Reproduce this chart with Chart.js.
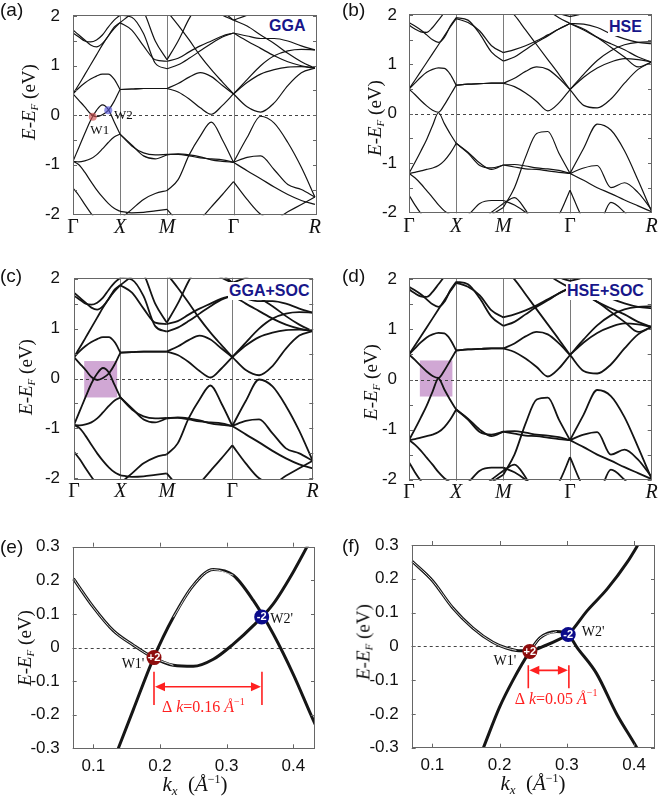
<!DOCTYPE html>
<html>
<head>
<meta charset="utf-8">
<title>Band structures</title>
<script src="https://cdn.jsdelivr.net/npm/chart.js@4.4.1/dist/chart.umd.min.js"></script>
<style>
  body { margin: 0; background: #fff; }
  #fig { position: relative; width: 660px; height: 796px; overflow: hidden; font-family: "Liberation Sans", Arial, sans-serif; color: #111; }
  #fig canvas { position: absolute; }
  .tag { position: absolute; font-size: 19px; line-height: 19px; }
  .method { position: absolute; font-size: 16px; line-height: 16px; font-weight: bold; color: #17168a; background: #fff; padding: 1px; }
  .ytitle { position: absolute; font-family: "Liberation Serif", serif; font-size: 19px; line-height: 22px; white-space: nowrap; transform: translate(-50%, -50%) rotate(-90deg); }
  .ytitle sub { font-size: 11px; vertical-align: -3px; font-style: italic; }
  .xtitle { position: absolute; font-family: "Liberation Serif", serif; font-size: 21px; line-height: 24px; white-space: nowrap; transform: translate(-50%, -50%); }
  .xtitle sub { font-size: 13px; vertical-align: -4px; }
  .xtitle sup { font-size: 12px; vertical-align: 8px; }
</style>
</head>
<body>
<div id="fig">
  <canvas id="pa" width="330" height="240" style="left:0;top:0"></canvas>
  <canvas id="pb" width="330" height="240" style="left:330px;top:0"></canvas>
  <canvas id="pc" width="330" height="260" style="left:0;top:240px"></canvas>
  <canvas id="pd" width="330" height="260" style="left:330px;top:240px"></canvas>
  <canvas id="pe" width="330" height="296" style="left:0;top:500px"></canvas>
  <canvas id="pf" width="330" height="296" style="left:330px;top:500px"></canvas>

  <div class="tag" style="left:0;top:0">(a)</div>
  <div class="tag" style="left:342px;top:0">(b)</div>
  <div class="tag" style="left:0;top:266px">(c)</div>
  <div class="tag" style="left:342px;top:266px">(d)</div>
  <div class="tag" style="left:0;top:537px">(e)</div>
  <div class="tag" style="left:342px;top:536px">(f)</div>

  <div class="method" style="left:268px;top:17px">GGA</div>
  <div class="method" style="left:608px;top:18px">HSE</div>
  <div class="method" style="left:228px;top:282px">GGA+SOC</div>
  <div class="method" style="left:566px;top:282px">HSE+SOC</div>

  <div class="ytitle" style="left:31px;top:102px"><i>E</i>-<i>E</i><sub>F</sub> (eV)</div>
  <div class="ytitle" style="left:377px;top:118px"><i>E</i>-<i>E</i><sub>F</sub> (eV)</div>
  <div class="ytitle" style="left:28px;top:377px"><i>E</i>-<i>E</i><sub>F</sub> (eV)</div>
  <div class="ytitle" style="left:373px;top:382px"><i>E</i>-<i>E</i><sub>F</sub> (eV)</div>
  <div class="ytitle" style="left:27px;top:648px"><i>E</i>-<i>E</i><sub>F</sub> (eV)</div>
  <div class="ytitle" style="left:366px;top:642px"><i>E</i>-<i>E</i><sub>F</sub> (eV)</div>

  <div class="xtitle" style="left:195px;top:785px"><i>k</i><sub><i>x</i></sub>&nbsp;&nbsp;(<i>Å</i><sup>−1</sup>)</div>
  <div class="xtitle" style="left:533px;top:784px"><i>k</i><sub><i>x</i></sub>&nbsp;&nbsp;(<i>Å</i><sup>−1</sup>)</div>
</div>
<script>
// k-path: Γ-X-M-Γ-R (path length in units of Γ-X)
const PATH_K = [0, 1, 2, 3.414, 5.146];
const PATH_LABELS = ['Γ', 'X', 'M', 'Γ', 'R'];
const K = [0, 0.125, 0.25, 0.375, 0.5, 0.625, 0.75, 0.875, 1,
           1.25, 1.5, 1.75, 2,
           2.236, 2.471, 2.707, 2.943, 3.179, 3.414,
           3.703, 3.991, 4.28, 4.569, 4.857, 5.146];
const SEGMENTS = [[0, 8], [8, 12], [12, 18], [18, 24]];
const BAND_Y_TICKS = [-2, -1, 0, 1, 2];
const BAND_TICK_MARKS = [-2, -1.5, -1, -0.5, 0, 0.5, 1, 1.5, 2];

// GGA bands (eV); also used for (c)
const gga1 = [0.43,0.55,0.65,0.73,0.79,0.83,0.83,0.73,0.52, 0.53,0.54,0.54,0.54, 0.64,0.77,0.86,0.78,0.60,0.43, 0.66,0.83,0.92,0.97,0.98,0.95];
const gga2 = [0.43,0.30,0.17,0.03,-0.03,0.01,0.10,0.28,0.52, 0.53,0.54,0.54,0.54, 0.47,0.33,0.15,0.02,0.20,0.43, 0.17,0.065,0.25,0.60,0.86,0.95];
const gga3 = [-0.93,-0.65,-0.37,-0.10,0.10,0.21,0.12,-0.13,-0.38, -0.62,-0.76,-0.80,-0.79, -0.79,-0.82,-0.86,-0.88,-0.90,-0.95, -0.85,-0.82,-1.10,-1.40,-1.50,-1.65];
const gga4 = [-0.93,-0.94,-0.92,-0.88,-0.80,-0.68,-0.55,-0.44,-0.38, -0.60,-0.82,-0.88,-0.80, -0.78,-0.80,-0.84,-0.90,-0.93,-0.95, -1.12,-1.28,-1.45,-1.60,-1.72,-1.80];
const gga5 = [-0.93,-1.00,-1.15,-1.33,-1.50,-1.65,-1.78,-1.88,-1.94, -1.97,-1.96,-1.93,-1.90, -2.15,-2.30,-2.10,-1.85,-1.60,-1.34, -1.70,-2.00,-2.10,-1.95,-1.80,-1.65];
const gga6 = [-1.47,-1.62,-1.80,-1.97,-2.12,-2.20,-2.20,-2.15,-2.10, -1.90,-1.70,-1.58,-1.52, -1.30,-0.80,-0.42,-0.14,-0.50,-0.95, -0.45,-0.02,-0.16,-0.55,-1.05,-1.65];
const gga7 = [0.43,0.62,0.82,1.02,1.22,1.42,1.60,1.75,1.87, 1.72,1.40,1.12,1.09, 1.15,1.28,1.40,1.50,1.60,1.66, 1.50,1.35,1.20,1.08,1.00,0.95];
const gga8 = [1.66,1.58,1.50,1.48,1.52,1.62,1.78,1.92,2.02, 1.98,1.65,1.05,0.94, 1.02,1.15,1.30,1.45,1.58,1.66, 1.60,1.55,1.55,1.50,1.40,1.32];
const gga9 = [1.72,1.62,1.52,1.42,1.38,1.45,1.60,1.78,1.87, 2.05,2.20,2.30,2.30, 2.30,2.30,2.25,2.15,2.02,1.92, 2.02,2.15,2.25,2.30,2.30,2.30];
const gga10 = [2.30,2.30,2.30,2.30,2.30,2.30,2.30,2.30,2.40, 2.35,2.10,1.50,1.12, 1.50,1.95,2.30,2.40,2.40,2.40, 2.40,2.40,2.40,2.40,2.40,2.40];
const gga11 = [2.40,2.40,2.40,2.40,2.40,2.40,2.40,2.40,2.40, 2.40,2.40,2.30,2.10, 1.82,1.52,1.20,0.92,0.67,0.43, 0.72,1.00,1.20,1.30,1.33,1.32];
const gga12 = [2.40,2.40,2.40,2.40,2.40,2.40,2.40,2.40,2.40, 2.40,2.40,2.40,2.40, 2.40,2.40,2.40,2.30,2.10,1.92, 1.80,1.62,1.45,1.25,1.08,0.95];
const GGA_BANDS = [gga1, gga2, gga3, gga4, gga5, gga6, gga7, gga8, gga9, gga10, gga11, gga12];

// HSE bands (eV); also used for (d)
const hse1 = [0.50,0.62,0.74,0.84,0.90,0.93,0.92,0.80,0.58, 0.60,0.61,0.62,0.62, 0.72,0.86,0.95,0.90,0.72,0.49, 0.74,0.93,1.05,1.12,1.10,1.05];
const hse2 = [0.50,0.39,0.27,0.16,0.07,0.03,0.18,0.38,0.58, 0.60,0.61,0.62,0.62, 0.55,0.42,0.25,0.06,0.22,0.49, 0.17,0.12,0.30,0.62,0.90,1.05];
const hse3 = [-1.21,-0.99,-0.76,-0.52,-0.24,0.02,-0.20,-0.41,-0.60, -0.80,-1.05,-1.10,-1.04, -1.03,-1.06,-1.10,-1.12,-1.15,-1.21, -1.10,-1.05,-1.50,-1.40,-1.60,-1.95];
const hse4 = [-1.21,-1.19,-1.16,-1.13,-1.10,-1.05,-0.95,-0.80,-0.60, -0.78,-1.00,-1.13,-1.04, -1.08,-1.12,-1.13,-1.16,-1.19,-1.21, -1.35,-1.50,-1.62,-1.75,-1.87,-1.99];
const hse5 = [-1.21,-1.30,-1.42,-1.56,-1.70,-1.85,-1.97,-2.05,-2.10, -2.05,-1.82,-1.76,-1.76, -1.85,-2.00,-2.20,-2.30,-2.30,-2.30, -2.30,-2.30,-2.30,-2.30,-2.30,-2.30];
const hse6 = [-1.65,-1.85,-2.02,-2.15,-2.25,-2.30,-2.30,-2.30,-2.30, -2.25,-2.20,-2.05,-1.90, -1.50,-0.88,-0.40,-0.36,-0.80,-1.21, -0.70,-0.21,-0.33,-0.75,-1.35,-1.99];
const hse7 = [-2.30,-2.30,-2.30,-2.30,-2.30,-2.30,-2.30,-2.30,-2.30, -2.30,-2.30,-2.30,-2.30, -2.30,-2.30,-2.30,-2.30,-2.05,-1.55, -2.15,-2.30,-2.30,-2.30,-2.30,-2.30];
const hse8 = [-2.30,-2.30,-2.30,-2.30,-2.30,-2.30,-2.30,-2.30,-2.30, -2.30,-2.20,-2.00,-1.82, -1.70,-1.95,-2.30,-2.30,-2.30,-2.30, -2.30,-2.30,-1.80,-2.00,-2.30,-2.30];
const hse9 = [0.50,0.68,0.86,1.04,1.22,1.40,1.58,1.76,1.93, 1.85,1.68,1.38,1.24, 1.30,1.38,1.48,1.60,1.72,1.83, 1.70,1.55,1.42,1.30,1.15,1.05];
const hse10 = [1.85,1.78,1.70,1.60,1.50,1.45,1.55,1.78,1.95, 1.90,1.62,1.25,1.07, 1.15,1.30,1.45,1.58,1.72,1.83, 1.82,1.75,1.62,1.52,1.45,1.42];
const hse11 = [1.80,1.72,1.66,1.65,1.75,1.90,2.05,2.15,2.20, 2.30,2.30,2.30,2.30, 2.30,2.30,2.30,2.30,2.05,1.97, 2.05,2.30,2.30,2.30,2.30,2.30];
const hse12 = [2.40,2.40,2.40,2.40,2.40,2.40,2.40,2.40,2.40, 2.40,2.40,2.30,2.20, 2.00,1.70,1.40,1.10,0.80,0.49, 0.80,1.08,1.28,1.40,1.45,1.46];
const hse13 = [2.40,2.40,2.40,2.40,2.40,2.40,2.40,2.40,2.40, 2.40,2.40,2.40,2.40, 2.40,2.40,2.30,2.10,1.95,1.83, 1.72,1.55,1.35,1.15,0.95,1.05];
const HSE_BANDS = [hse1, hse2, hse3, hse4, hse5, hse6, hse7, hse8, hse9, hse10, hse11, hse12, hse13];

// Weyl points in (a), [k, E]
const W1_GGA = [0.42, -0.03];
const W2_GGA = [0.75, 0.10];
// shaded windows in (c) and (d)
const BOX_C_K = [0.22, 0.93], BOX_C_E = [-0.38, 0.35];
const BOX_D_K = [0.23, 0.92], BOX_D_E = [-0.34, 0.38];

// zoomed bands near Weyl points, panel (e) GGA+SOC
const E_KA = [0.07, 0.10, 0.13, 0.16, 0.19, 0.22, 0.25, 0.28, 0.31, 0.34, 0.37, 0.40, 0.43, 0.45];
const E_A  = [0.205, 0.12, 0.05, 0.007, -0.03, -0.053, -0.056, -0.035, 0.01, 0.065, 0.13, 0.225, 0.335, 0.41];
const E_KB = [0.12, 0.1375, 0.16, 0.19, 0.22, 0.25, 0.28, 0.31, 0.34, 0.37, 0.40, 0.43, 0.45];
const E_B  = [-0.39, -0.30, -0.185, -0.033, 0.09, 0.185, 0.232, 0.215, 0.14, 0.04, -0.08, -0.216, -0.30];
const E_DOUBLE_A = [0.07, 0.22], E_DOUBLE_B = [0.22, 0.32];
const E_W1 = [0.191, -0.03], E_W2 = [0.3526, 0.091];
const E_DK = [0.191, 0.353], E_DK_BAR = -0.117, E_DK_TICK = [-0.072, -0.171], E_DK_LABEL = [0.265, -0.18];

// panel (f) HSE+SOC
const F_KA = [0.07, 0.10, 0.13, 0.16, 0.19, 0.21, 0.225, 0.245, 0.27, 0.29, 0.302, 0.33, 0.36, 0.39, 0.41, 0.43];
const F_A  = [0.252, 0.195, 0.115, 0.055, 0.012, -0.005, -0.012, -0.013, 0.004, 0.022, 0.035, 0.105, 0.17, 0.25, 0.315, 0.38];
const F_KB = [0.17, 0.176, 0.2, 0.22, 0.245, 0.26, 0.285, 0.302, 0.315, 0.344, 0.374, 0.404, 0.42];
const F_B  = [-0.33, -0.30, -0.18, -0.10, -0.015, 0.025, 0.044, 0.035, -0.003, -0.08, -0.20, -0.30, -0.36];
const F_DOUBLE_A = [0.07, 0.24], F_DOUBLE_B = [0.245, 0.30];
const F_W1 = [0.245, -0.015], F_W2 = [0.302, 0.035];
const F_DK = [0.2427, 0.303], F_DK_BAR = -0.071, F_DK_TICK = [-0.056, -0.124], F_DK_LABEL = [0.284, -0.158];

const ZOOM_X_TICKS = [0.1, 0.2, 0.3, 0.4];
const ZOOM_X_LABELS = ['0.1', '0.2', '0.3', '0.4'];
const ZOOM_Y_TICKS = [-0.3, -0.2, -0.1, 0, 0.1, 0.2, 0.3];
const ZOOM_Y_LABELS = ['-0.3', '-0.2', '-0.1', '0', '0.1', '0.2', '0.3'];

const SANS = '"Liberation Sans", Arial, sans-serif';
const SERIF = '"Liberation Serif", "Times New Roman", serif';
Chart.defaults.color = '#111';

// one dataset per path segment so the kinks at X, M, Γ stay sharp
function bandSets(bands, width) {
    const sets = [];
    bands.forEach(band => {
        SEGMENTS.forEach(([i0, i1]) => {
            const pts = [];
            for (let i = i0; i <= i1; i++) pts.push({ x: K[i], y: band[i] });
            sets.push({ data: pts, borderColor: '#141414', borderWidth: width, pointRadius: 0, cubicInterpolationMode: 'monotone' });
        });
    });
    return sets;
}

function drawFrame(ctx, a) {
    ctx.strokeStyle = '#666';
    ctx.lineWidth = 1;
    ctx.strokeRect(Math.round(a.left) + 0.5, Math.round(a.top) + 0.5, Math.round(a.right - a.left) - 1, Math.round(a.bottom - a.top) - 1);
}

function bandDecor(opt) {
    return {
        id: 'bandDecor',
        beforeDatasetsDraw(chart) {
            const { ctx, chartArea: a, scales: { x, y } } = chart;
            ctx.save();
            if (opt.boxK) {
                const x0 = x.getPixelForValue(opt.boxK[0]), x1 = x.getPixelForValue(opt.boxK[1]);
                const y0 = y.getPixelForValue(opt.boxE[1]), y1 = y.getPixelForValue(opt.boxE[0]);
                ctx.fillStyle = 'rgba(150, 60, 160, 0.45)';
                ctx.fillRect(x0, y0, x1 - x0, y1 - y0);
            }
            ctx.strokeStyle = '#7a7a7a';
            ctx.lineWidth = 1;
            PATH_K.slice(1, 4).forEach(k => {
                const px = Math.round(x.getPixelForValue(k)) + 0.5;
                ctx.beginPath(); ctx.moveTo(px, a.top); ctx.lineTo(px, a.bottom); ctx.stroke();
            });
            const py = Math.round(y.getPixelForValue(0)) + 0.5;
            ctx.strokeStyle = '#444';
            ctx.setLineDash([3, 3]);
            ctx.beginPath(); ctx.moveTo(a.left, py); ctx.lineTo(a.right, py); ctx.stroke();
            ctx.restore();
        },
        afterDatasetsDraw(chart) {
            const { ctx, chartArea: a, scales: { x, y } } = chart;
            ctx.save();
            drawFrame(ctx, a);
            ctx.strokeStyle = '#666';
            BAND_TICK_MARKS.forEach(v => {
                const py = Math.round(y.getPixelForValue(v)) + 0.5;
                ctx.beginPath();
                ctx.moveTo(a.left, py); ctx.lineTo(a.left + 4, py);
                ctx.moveTo(a.right, py); ctx.lineTo(a.right - 4, py);
                ctx.stroke();
            });
            if (opt.weyl) {
                [[W1_GGA, 'rgba(205, 80, 80, 0.65)', 'W1', 7, 14], [W2_GGA, 'rgba(85, 85, 215, 0.65)', 'W2', 15, 5]].forEach(([p, col, txt, dx, dy]) => {
                    const px = x.getPixelForValue(p[0]), py = y.getPixelForValue(p[1]);
                    ctx.fillStyle = col;
                    ctx.beginPath(); ctx.arc(px, py, 4, 0, Math.PI * 2); ctx.fill();
                    ctx.fillStyle = '#111';
                    ctx.font = '13px ' + SERIF;
                    ctx.textAlign = 'center'; ctx.textBaseline = 'middle';
                    ctx.fillText(txt, px + dx, py + dy);
                });
            }
            ctx.restore();
        }
    };
}

function bandChart(id, bands, lineWidth, lay, opt) {
    return new Chart(document.getElementById(id), {
        type: 'line',
        data: { datasets: bandSets(bands, lineWidth) },
        options: {
            responsive: false,
            animation: false,
            events: [],
            layout: { padding: { top: lay.padTop, right: lay.padRight, left: 0, bottom: 0 } },
            plugins: { legend: { display: false }, tooltip: { enabled: false } },
            scales: {
                x: {
                    type: 'linear', min: 0, max: lay.xMax,
                    grid: { display: false }, border: { display: false },
                    afterBuildTicks: s => { s.ticks = PATH_K.map(v => ({ value: v })); },
                    afterFit: s => { s.height = lay.xAxisH; },
                    ticks: {
                        autoSkip: false, maxRotation: 0, padding: lay.xPad, color: '#111',
                        callback: (v, i) => PATH_LABELS[i],
                        font: c => ({ family: SERIF, size: 20, lineHeight: 1, style: PATH_LABELS[c.index] === 'Γ' ? 'normal' : 'italic' })
                    }
                },
                y: {
                    min: -2.02, max: 2.02,
                    grid: { display: false }, border: { display: false },
                    afterBuildTicks: s => { s.ticks = BAND_Y_TICKS.map(v => ({ value: v })); },
                    afterFit: s => { s.width = lay.yAxisW; },
                    ticks: { padding: lay.yPad, color: '#111', font: { family: SANS, size: 17 }, callback: v => String(v) }
                }
            }
        },
        plugins: [bandDecor(opt)]
    });
}

function zip(ks, es) {
    return ks.map((k, i) => ({ x: k, y: es[i] }));
}

// Chart.js paints the first dataset last, so the light inner stroke goes first
function zoomSets(lines) {
    const sets = [];
    lines.forEach(([ks, es, dbl]) => {
        const inner = zip(ks, es).filter(p => p.x >= dbl[0] && p.x <= dbl[1]);
        sets.push({ data: inner, borderColor: '#d8d8d8', borderWidth: 1, pointRadius: 0, cubicInterpolationMode: 'monotone' });
    });
    lines.forEach(([ks, es]) => {
        sets.push({ data: zip(ks, es), borderColor: '#161616', borderWidth: 3, pointRadius: 0, cubicInterpolationMode: 'monotone' });
    });
    return sets;
}

function drawRich(ctx, parts, cx, cy) {
    let total = 0;
    parts.forEach(p => { ctx.font = p.font; p.w = ctx.measureText(p.t).width; total += p.w; });
    let xx = cx - total / 2;
    ctx.textAlign = 'left'; ctx.textBaseline = 'middle';
    parts.forEach(p => { ctx.font = p.font; ctx.fillText(p.t, xx, cy + (p.dy || 0)); xx += p.w; });
}

function zoomDecor(opt) {
    return {
        id: 'zoomDecor',
        beforeDatasetsDraw(chart) {
            const { ctx, chartArea: a, scales: { y } } = chart;
            ctx.save();
            const py = Math.round(y.getPixelForValue(0)) + 0.5;
            ctx.strokeStyle = '#444';
            ctx.lineWidth = 1;
            ctx.setLineDash([3, 3]);
            ctx.beginPath(); ctx.moveTo(a.left, py); ctx.lineTo(a.right, py); ctx.stroke();
            ctx.restore();
        },
        afterDatasetsDraw(chart) {
            const { ctx, chartArea: a, scales: { x, y } } = chart;
            ctx.save();
            drawFrame(ctx, a);
            ctx.strokeStyle = '#666';
            ZOOM_Y_TICKS.forEach(v => {
                const py = Math.round(y.getPixelForValue(v)) + 0.5;
                ctx.beginPath();
                ctx.moveTo(a.left, py); ctx.lineTo(a.left + 4, py);
                ctx.moveTo(a.right, py); ctx.lineTo(a.right - 4, py);
                ctx.stroke();
            });
            ZOOM_X_TICKS.forEach(v => {
                const px = Math.round(x.getPixelForValue(v)) + 0.5;
                ctx.beginPath();
                ctx.moveTo(px, a.top); ctx.lineTo(px, a.top - 4);
                ctx.moveTo(px, a.bottom); ctx.lineTo(px, a.bottom - 4);
                ctx.stroke();
            });

            // Δk bracket
            const xa = x.getPixelForValue(opt.dk[0]), xb = x.getPixelForValue(opt.dk[1]);
            const yb = y.getPixelForValue(opt.dkBar);
            const t0 = y.getPixelForValue(opt.dkTick[0]), t1 = y.getPixelForValue(opt.dkTick[1]);
            ctx.strokeStyle = '#ff2020'; ctx.fillStyle = '#ff2020'; ctx.lineWidth = 1.6;
            ctx.beginPath();
            ctx.moveTo(xa, t0); ctx.lineTo(xa, t1);
            ctx.moveTo(xb, t0); ctx.lineTo(xb, t1);
            ctx.moveTo(xa + 6, yb); ctx.lineTo(xb - 6, yb);
            ctx.stroke();
            ctx.beginPath();
            ctx.moveTo(xa + 1, yb); ctx.lineTo(xa + 11, yb - 4.5); ctx.lineTo(xa + 11, yb + 4.5); ctx.closePath();
            ctx.moveTo(xb - 1, yb); ctx.lineTo(xb - 11, yb - 4.5); ctx.lineTo(xb - 11, yb + 4.5); ctx.closePath();
            ctx.fill();
            drawRich(ctx, [
                { t: 'Δ ', font: '16px ' + SERIF },
                { t: 'k', font: 'italic 16px ' + SERIF },
                { t: '=' + opt.dkText + ' ', font: '16px ' + SERIF },
                { t: 'Å', font: 'italic 16px ' + SERIF },
                { t: '−1', font: '10px ' + SERIF, dy: -6 }
            ], x.getPixelForValue(opt.dkLabel[0]), y.getPixelForValue(opt.dkLabel[1]));

            // Weyl points with chirality
            [[opt.w1, '#8e0d0d', '+2', "W1'", opt.w1Off], [opt.w2, '#0b0b8a', '-2', "W2'", opt.w2Off]].forEach(([p, col, chi, name, off]) => {
                const px = x.getPixelForValue(p[0]), py = y.getPixelForValue(p[1]);
                ctx.fillStyle = col;
                ctx.beginPath(); ctx.arc(px, py, 7.5, 0, Math.PI * 2); ctx.fill();
                ctx.fillStyle = '#fff';
                ctx.font = 'bold 11px ' + SANS;
                ctx.textAlign = 'center'; ctx.textBaseline = 'middle';
                ctx.fillText(chi, px, py + 0.5);
                ctx.fillStyle = '#111';
                ctx.font = '14px ' + SERIF;
                ctx.fillText(name, px + off[0], py + off[1]);
            });
            ctx.restore();
        }
    };
}

function zoomChart(id, lines, lay, opt) {
    return new Chart(document.getElementById(id), {
        type: 'line',
        data: { datasets: zoomSets(lines) },
        options: {
            responsive: false,
            animation: false,
            events: [],
            layout: { padding: { top: lay.padTop, right: lay.padRight, left: 0, bottom: 0 } },
            plugins: { legend: { display: false }, tooltip: { enabled: false } },
            scales: {
                x: {
                    type: 'linear', min: lay.xMin, max: lay.xMax,
                    grid: { display: false }, border: { display: false },
                    afterBuildTicks: s => { s.ticks = ZOOM_X_TICKS.map(v => ({ value: v })); },
                    afterFit: s => { s.height = lay.xAxisH; },
                    ticks: { autoSkip: false, maxRotation: 0, padding: lay.xPad, color: '#111', font: { family: SANS, size: 17, lineHeight: 1 }, callback: (v, i) => ZOOM_X_LABELS[i] }
                },
                y: {
                    min: -0.3, max: 0.3,
                    grid: { display: false }, border: { display: false },
                    afterBuildTicks: s => { s.ticks = ZOOM_Y_TICKS.map(v => ({ value: v })); },
                    afterFit: s => { s.width = lay.yAxisW; },
                    ticks: { padding: 5, color: '#111', font: { family: SANS, size: 17 }, callback: (v, i) => ZOOM_Y_LABELS[i] }
                }
            }
        },
        plugins: [zoomDecor(opt)]
    });
}

bandChart('pa', GGA_BANDS, 1.2, { padTop: 13.3, padRight: 13, xMax: 5.19, xAxisH: 24.7, yAxisW: 73, xPad: -6, yPad: 5 }, { weyl: true });
bandChart('pb', HSE_BANDS, 1.2, { padTop: 13.5, padRight: 8, xMax: 5.152, xAxisH: 26.7, yAxisW: 79, xPad: -5, yPad: 4 }, {});
bandChart('pc', GGA_BANDS, 1.8, { padTop: 37.7, padRight: 16.7, xMax: 5.159, xAxisH: 20.7, yAxisW: 74, xPad: -6, yPad: 6 }, { boxK: BOX_C_K, boxE: BOX_C_E });
bandChart('pd', HSE_BANDS, 1.8, { padTop: 38.3, padRight: 8.3, xMax: 5.146, xAxisH: 19.3, yAxisW: 79, xPad: -6, yPad: 4 }, { boxK: BOX_D_K, boxE: BOX_D_E });

zoomChart('pe', [[E_KA, E_A, E_DOUBLE_A], [E_KB, E_B, E_DOUBLE_B]],
    { padTop: 46.7, padRight: 15, xMin: 0.069, xMax: 0.4326, xAxisH: 47.7, yAxisW: 72.7, xPad: 2 },
    { w1: E_W1, w2: E_W2, w1Off: [-21, 7], w2Off: [20, 2], dk: E_DK, dkBar: E_DK_BAR, dkTick: E_DK_TICK, dkLabel: E_DK_LABEL, dkText: '0.16' });
zoomChart('pf', [[F_KA, F_A, F_DOUBLE_A], [F_KB, F_B, F_DOUBLE_B]],
    { padTop: 45, padRight: 5, xMin: 0.0694, xMax: 0.431, xAxisH: 48.3, yAxisW: 81.7, xPad: 1 },
    { w1: F_W1, w2: F_W2, w1Off: [-25, 10], w2Off: [25, -2], dk: F_DK, dkBar: F_DK_BAR, dkTick: F_DK_TICK, dkLabel: F_DK_LABEL, dkText: '0.05' });
</script>
</body>
</html>
